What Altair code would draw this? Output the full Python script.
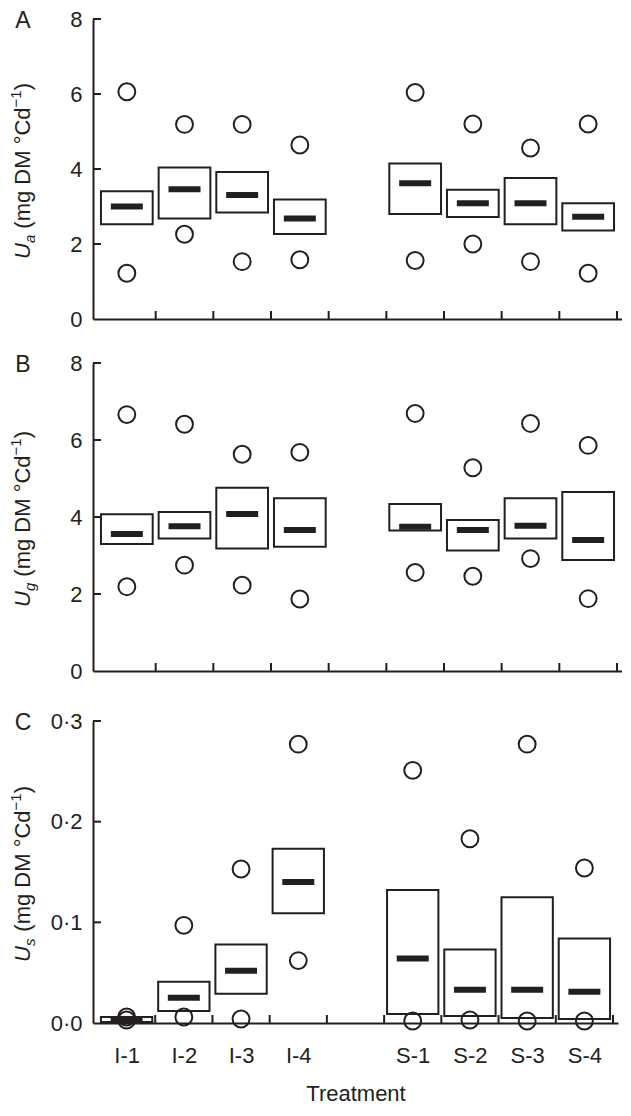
import json
import altair as alt
import pandas as pd

# ---------------- data ----------------
treatments = ["I-1", "I-2", "I-3", "I-4", "S-1", "S-2", "S-3", "S-4"]

# Panel A : U_a
a_mean = [3.00, 3.46, 3.31, 2.68, 3.62, 3.09, 3.09, 2.73]
a_lo = [2.53, 2.68, 2.84, 2.27, 2.80, 2.72, 2.53, 2.36]
a_hi = [3.41, 4.04, 3.92, 3.19, 4.15, 3.45, 3.76, 3.09]
a_min = [1.22, 2.26, 1.53, 1.58, 1.56, 2.00, 1.53, 1.22]
a_max = [6.06, 5.19, 5.19, 4.64, 6.04, 5.20, 4.56, 5.20]

# Panel B : U_g
b_mean = [3.56, 3.76, 4.08, 3.66, 3.75, 3.66, 3.77, 3.40]
b_lo = [3.30, 3.44, 3.18, 3.23, 3.65, 3.13, 3.44, 2.88]
b_hi = [4.07, 4.13, 4.76, 4.49, 4.34, 3.92, 4.49, 4.65]
b_min = [2.19, 2.75, 2.23, 1.87, 2.56, 2.46, 2.92, 1.88]
b_max = [6.66, 6.41, 5.63, 5.68, 6.69, 5.28, 6.43, 5.86]

# Panel C : U_s
c_mean = [0.003, 0.025, 0.052, 0.140, 0.064, 0.033, 0.033, 0.031]
c_lo = [0.001, 0.012, 0.029, 0.109, 0.009, 0.007, 0.005, 0.004]
c_hi = [0.006, 0.041, 0.078, 0.173, 0.132, 0.073, 0.125, 0.084]
c_min = [0.003, 0.006, 0.004, 0.062, 0.002, 0.003, 0.002, 0.002]
c_max = [0.006, 0.097, 0.153, 0.277, 0.251, 0.183, 0.277, 0.154]

ab_ticks = [0, 2, 4, 6, 8]
c_ticks = [0.0, 0.1, 0.2, 0.3]

# ---------------- layout helpers ----------------
INK = "#231f20"
FONT = "Liberation Sans"
FS = 22

# slot positions: one empty slot between the I and S groups
positions = []
slot = 0
prev = None
for t in treatments:
    g = t.split("-")[0]
    if prev is not None and g != prev:
        slot += 1
    positions.append(slot + 0.5)
    slot += 1
    prev = g
n_slots = slot
slot_labels = [""] * n_slots
for t, p in zip(treatments, positions):
    slot_labels[int(p)] = t
boundaries = list(range(1, n_slots + 1))


def text_layer(txt, x, y, size, style="normal", align="left", angle=270, baseline="alphabetic"):
    return alt.Chart(pd.DataFrame({"t": [txt]})).mark_text(
        font=FONT, fontSize=size, fontStyle=style, align=align, angle=angle,
        baseline=baseline, color=INK
    ).encode(text="t:N", x=alt.value(x), y=alt.value(y))


def panel(letter, sub, mean, lo, hi, mn, mx, ydom, yticks, ylabel_expr, W, H, show_x):
    df = pd.DataFrame(dict(treatment=treatments, pos=positions, mean=mean,
                           lo=lo, hi=hi, vmin=mn, vmax=mx))
    xscale = alt.Scale(domain=[0, n_slots], nice=False, zero=False)
    yscale = alt.Scale(domain=ydom, nice=False, zero=False)
    if show_x:
        xaxis = alt.Axis(values=positions,
                         labelExpr=json.dumps(slot_labels) + "[floor(datum.value)]",
                         ticks=False, grid=False, domainColor=INK, domainWidth=2,
                         labelFont=FONT, labelFontSize=FS, labelColor=INK, labelPadding=22,
                         title="Treatment", titleFont=FONT, titleFontSize=FS,
                         titleFontWeight="normal", titleColor=INK, titlePadding=17)
    else:
        xaxis = alt.Axis(labels=False, ticks=False, grid=False, domainColor=INK,
                         domainWidth=2, title=None)
    yaxis = alt.Axis(values=yticks, labelExpr=ylabel_expr, ticks=False, grid=False,
                     domainColor=INK, domainWidth=2, labelFont=FONT, labelFontSize=FS,
                     labelColor=INK, labelPadding=11, title=None)
    X = alt.X("pos:Q", scale=xscale, axis=xaxis)
    bw = W / n_slots * 0.88
    base = alt.Chart(df)
    boxes = base.mark_bar(width=bw, fill="white", stroke=INK, strokeWidth=2).encode(
        x=X, y=alt.Y("lo:Q", scale=yscale, axis=yaxis), y2="hi:Q")
    means = base.mark_tick(orient="horizontal", size=32, thickness=6, color=INK,
                           opacity=1).encode(
        x=X, y=alt.Y("mean:Q", scale=yscale, axis=yaxis))
    pts = base.transform_fold(["vmin", "vmax"], as_=["stat", "value"]).mark_point(
        shape="circle", size=285, filled=False, color=INK, strokeWidth=2, opacity=1
    ).encode(x=X, y=alt.Y("value:Q", scale=yscale, axis=yaxis))
    ytr = alt.Chart(pd.DataFrame({"v": yticks[1:]})).mark_rule(
        color=INK, strokeWidth=2).encode(
        y=alt.Y("v:Q", scale=yscale, axis=yaxis), x=alt.value(0), x2=alt.value(8))
    xtr = alt.Chart(pd.DataFrame({"b": boundaries})).mark_rule(
        color=INK, strokeWidth=2).encode(
        x=alt.X("b:Q", scale=xscale, axis=xaxis), y=alt.value(H), y2=alt.value(H - 8))

    # panel letter
    lt = text_layer(letter, -70, 2, 23, align="center", angle=0, baseline="middle")
    # rotated y title: italic U, subscript, unit text, superscript
    s = H / 2 + 90
    bx = -63
    t1 = text_layer("U", bx, s, FS, style="italic")
    t2 = text_layer(sub, bx + 5, s - 15.9, 15, style="italic")
    t3 = text_layer("(mg DM °Cd", bx, s - 30.3, FS)
    t4 = text_layer("\u22121", bx - 9, s - 151.6, 15)
    t5 = text_layer(")", bx, s - 168.7, FS)
    return alt.layer(boxes, means, pts, ytr, xtr, lt, t1, t2, t3, t4, t5).properties(
        width=W, height=H)


int_expr = "format(datum.value, 'd')"
dot_expr = "replace(format(datum.value, '.1f'), '.', '\u00b7')"

pA = panel("A", "a", a_mean, a_lo, a_hi, a_min, a_max, [0, 8], ab_ticks, int_expr, 529, 300, False)
pB = panel("B", "g", b_mean, b_lo, b_hi, b_min, b_max, [0, 8], ab_ticks, int_expr, 529, 308, False)
pC = panel("C", "s", c_mean, c_lo, c_hi, c_min, c_max, [0, 0.3], c_ticks, dot_expr, 525, 302, True)

chart = alt.vconcat(alt.vconcat(pA, pB, spacing=22), pC, spacing=28).properties(
    padding={"left": 0, "top": 0, "right": 0, "bottom": 0}
).configure_view(stroke=None)

chart.save("out.html", embed_options={"renderer": "svg", "actions": False})
